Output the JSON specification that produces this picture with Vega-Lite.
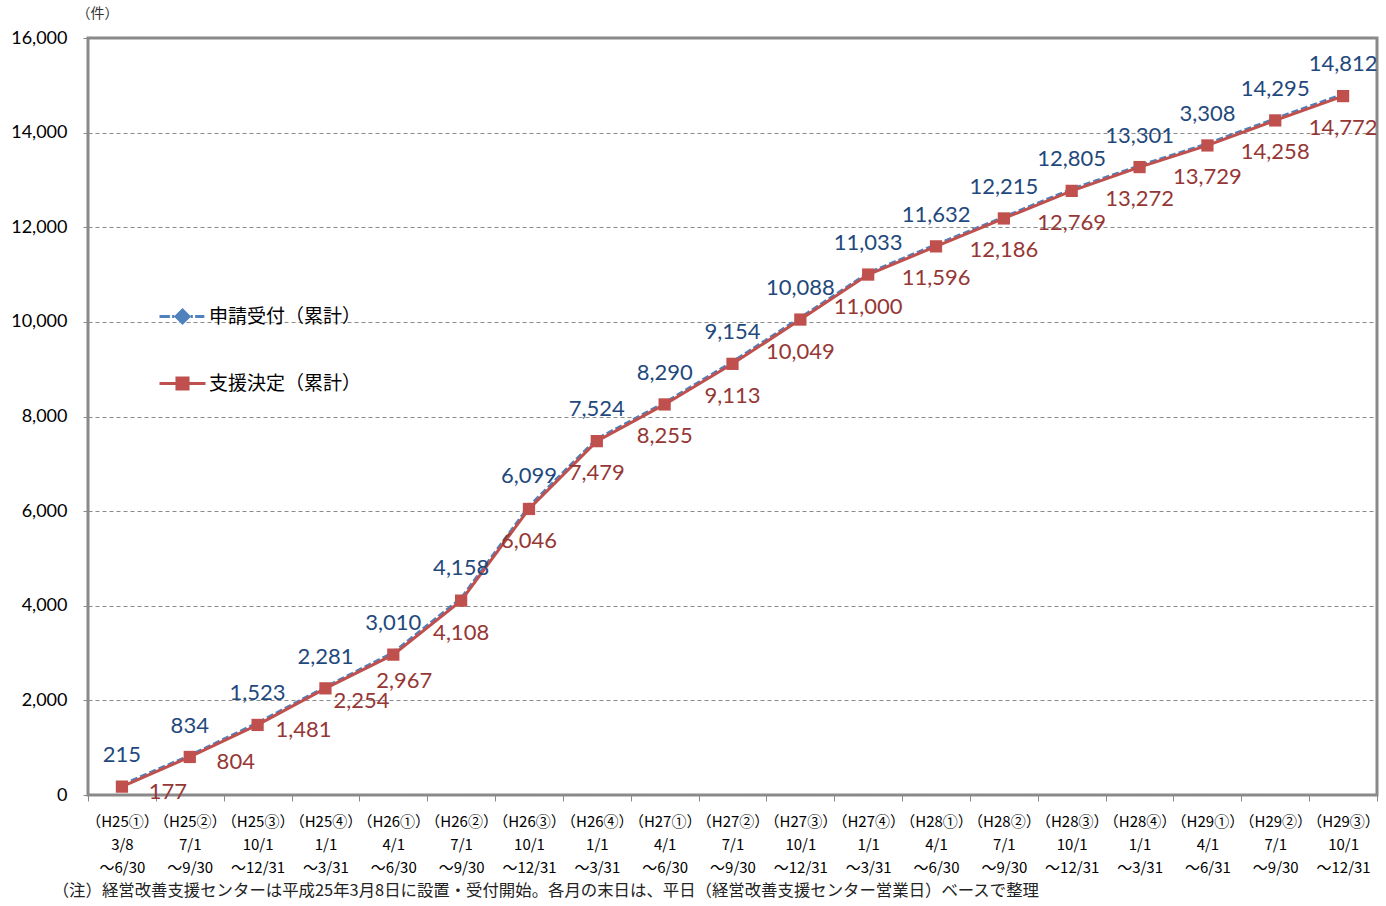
{
  "$schema": "https://vega.github.io/schema/vega-lite/v6.json",
  "width": 1289,
  "height": 757,
  "autosize": {"type": "none"},
  "padding": {"left": 88, "top": 38, "right": 9, "bottom": 111},
  "background": "white",
  "config": {"view": {"stroke": "#898989", "strokeWidth": 3}, "font": "Lato"},
  "title": {
    "text": "（注）経営改善支援センターは平成25年3月8日に設置・受付開始。各月の末日は、平日（経営改善支援センター営業日）ベースで整理",
    "orient": "bottom", "anchor": "start", "dx": 42, "offset": 8,
    "font": "Noto Sans CJK JP", "fontSize": 16.4, "fontWeight": "normal", "color": "#222222"
  },
  "data": {"values": [
    {"q": "（H25①）|3/8|～6/30", "series": "申請受付（累計）", "value": 215, "label": "215"},
    {"q": "（H25②）|7/1|～9/30", "series": "申請受付（累計）", "value": 834, "label": "834"},
    {"q": "（H25③）|10/1|～12/31", "series": "申請受付（累計）", "value": 1523, "label": "1,523"},
    {"q": "（H25④）|1/1|～3/31", "series": "申請受付（累計）", "value": 2281, "label": "2,281"},
    {"q": "（H26①）|4/1|～6/30", "series": "申請受付（累計）", "value": 3010, "label": "3,010"},
    {"q": "（H26②）|7/1|～9/30", "series": "申請受付（累計）", "value": 4158, "label": "4,158"},
    {"q": "（H26③）|10/1|～12/31", "series": "申請受付（累計）", "value": 6099, "label": "6,099"},
    {"q": "（H26④）|1/1|～3/31", "series": "申請受付（累計）", "value": 7524, "label": "7,524"},
    {"q": "（H27①）|4/1|～6/30", "series": "申請受付（累計）", "value": 8290, "label": "8,290"},
    {"q": "（H27②）|7/1|～9/30", "series": "申請受付（累計）", "value": 9154, "label": "9,154"},
    {"q": "（H27③）|10/1|～12/31", "series": "申請受付（累計）", "value": 10088, "label": "10,088"},
    {"q": "（H27④）|1/1|～3/31", "series": "申請受付（累計）", "value": 11033, "label": "11,033"},
    {"q": "（H28①）|4/1|～6/30", "series": "申請受付（累計）", "value": 11632, "label": "11,632"},
    {"q": "（H28②）|7/1|～9/30", "series": "申請受付（累計）", "value": 12215, "label": "12,215"},
    {"q": "（H28③）|10/1|～12/31", "series": "申請受付（累計）", "value": 12805, "label": "12,805"},
    {"q": "（H28④）|1/1|～3/31", "series": "申請受付（累計）", "value": 13301, "label": "13,301"},
    {"q": "（H29①）|4/1|～6/31", "series": "申請受付（累計）", "value": 13765, "label": "3,308"},
    {"q": "（H29②）|7/1|～9/30", "series": "申請受付（累計）", "value": 14295, "label": "14,295"},
    {"q": "（H29③）|10/1|～12/31", "series": "申請受付（累計）", "value": 14812, "label": "14,812"},
    {"q": "（H25①）|3/8|～6/30", "series": "支援決定（累計）", "value": 177, "label": "177"},
    {"q": "（H25②）|7/1|～9/30", "series": "支援決定（累計）", "value": 804, "label": "804"},
    {"q": "（H25③）|10/1|～12/31", "series": "支援決定（累計）", "value": 1481, "label": "1,481"},
    {"q": "（H25④）|1/1|～3/31", "series": "支援決定（累計）", "value": 2254, "label": "2,254"},
    {"q": "（H26①）|4/1|～6/30", "series": "支援決定（累計）", "value": 2967, "label": "2,967"},
    {"q": "（H26②）|7/1|～9/30", "series": "支援決定（累計）", "value": 4108, "label": "4,108"},
    {"q": "（H26③）|10/1|～12/31", "series": "支援決定（累計）", "value": 6046, "label": "6,046"},
    {"q": "（H26④）|1/1|～3/31", "series": "支援決定（累計）", "value": 7479, "label": "7,479"},
    {"q": "（H27①）|4/1|～6/30", "series": "支援決定（累計）", "value": 8255, "label": "8,255"},
    {"q": "（H27②）|7/1|～9/30", "series": "支援決定（累計）", "value": 9113, "label": "9,113"},
    {"q": "（H27③）|10/1|～12/31", "series": "支援決定（累計）", "value": 10049, "label": "10,049"},
    {"q": "（H27④）|1/1|～3/31", "series": "支援決定（累計）", "value": 11000, "label": "11,000"},
    {"q": "（H28①）|4/1|～6/30", "series": "支援決定（累計）", "value": 11596, "label": "11,596"},
    {"q": "（H28②）|7/1|～9/30", "series": "支援決定（累計）", "value": 12186, "label": "12,186"},
    {"q": "（H28③）|10/1|～12/31", "series": "支援決定（累計）", "value": 12769, "label": "12,769"},
    {"q": "（H28④）|1/1|～3/31", "series": "支援決定（累計）", "value": 13272, "label": "13,272"},
    {"q": "（H29①）|4/1|～6/31", "series": "支援決定（累計）", "value": 13729, "label": "13,729"},
    {"q": "（H29②）|7/1|～9/30", "series": "支援決定（累計）", "value": 14258, "label": "14,258"},
    {"q": "（H29③）|10/1|～12/31", "series": "支援決定（累計）", "value": 14772, "label": "14,772"}
  ]},
  "encoding": {
    "x": {
      "field": "q", "type": "ordinal", "sort": null, "bandPosition": 0.5,
      "scale": {"type": "band", "paddingInner": 0, "paddingOuter": 0},
      "axis": {
        "title": null, "labelAngle": 0, "labelExpr": "datum.value ? split(datum.value, '|') : ''",
        "labelFont": "Noto Sans CJK JP", "labelFontSize": 15, "labelLineHeight": 23,
        "labelColor": "#000000", "labelPadding": 13, "labelOverlap": false, "labelBound": false,
        "tickBand": "extent", "tickSize": 6, "tickColor": "#898989", "tickWidth": 1,
        "domain": false, "grid": false
      }
    },
    "y": {
      "field": "value", "type": "quantitative",
      "scale": {"domain": [0, 16000], "nice": false},
      "axis": {
        "title": "（件）", "titleAngle": 0, "titleX": -12, "titleY": -25,
        "titleAlign": "left", "titleBaseline": "middle",
        "titleFont": "Noto Sans CJK JP", "titleFontSize": 14, "titleFontWeight": "normal", "titleColor": "#333333",
        "values": [0, 2000, 4000, 6000, 8000, 10000, 12000, 14000, 16000],
        "format": ",d", "labelFontSize": 18, "labelColor": "#000000", "labelPadding": 16,
        "tickSize": 5, "tickColor": "#898989", "domain": false,
        "grid": true, "gridDash": [4, 3], "gridColor": "#8a8a8a", "gridWidth": 1
      }
    }
  },
  "layer": [
    {
      "transform": [{"filter": "datum.series === '申請受付（累計）'"}],
      "mark": {"type": "line", "strokeWidth": 3, "strokeDash": [7, 3]},
      "encoding": {
        "color": {
          "field": "series", "type": "nominal",
          "scale": {"domain": ["申請受付（累計）", "支援決定（累計）"], "range": ["#4F81BD", "#C0504D"]},
          "legend": {
            "title": null, "orient": "none", "legendX": 70, "legendY": 254, "direction": "vertical",
            "padding": 0, "symbolSize": 2116, "symbolStrokeWidth": 3, "rowPadding": 30, "labelOffset": 2,
            "labelFont": "Noto Sans CJK JP", "labelFontSize": 19, "labelColor": "#000000", "labelLimit": 300,
            "encode": {"symbols": {"update": {
              "shape": {"signal": "datum.value === '申請受付（累計）' ? 'M-1,0H-0.55M-0.45,0H-0.36M0.36,0H0.45M0.55,0H0.95M0,-0.28L0.28,0L0,0.28L-0.28,0Z' : 'M-1,0H1M-0.24,-0.24H0.24V0.24H-0.24Z'"},
              "fill": {"signal": "datum.value === '申請受付（累計）' ? '#4F81BD' : '#C0504D'"},
              "stroke": {"signal": "datum.value === '申請受付（累計）' ? '#4F81BD' : '#C0504D'"},
              "strokeWidth": {"value": 3},
              "strokeDash": {"value": []},
              "opacity": {"value": 1}
            }}}
          }
        }
      }
    },
    {
      "transform": [{"filter": "datum.series === '申請受付（累計）'"}],
      "mark": {"type": "point", "shape": "diamond", "filled": true, "size": 60, "color": "#4F81BD", "opacity": 1}
    },
    {
      "transform": [{"filter": "datum.series === '支援決定（累計）'"}],
      "mark": {"type": "line", "strokeWidth": 3},
      "encoding": {"color": {"field": "series", "type": "nominal"}}
    },
    {
      "transform": [{"filter": "datum.series === '支援決定（累計）'"}],
      "mark": {"type": "point", "shape": "square", "filled": true, "size": 150, "color": "#C0504D", "opacity": 1}
    },
    {
      "transform": [{"filter": "datum.series === '申請受付（累計）'"}],
      "mark": {"type": "text", "dy": -30, "fontSize": 22, "font": "Lato", "color": "#1F497D"},
      "encoding": {"text": {"field": "label"}}
    },
    {
      "transform": [{"filter": "datum.series === '支援決定（累計）' && datum.value < 2000"}],
      "mark": {"type": "text", "dx": 46, "dy": 5, "fontSize": 22, "font": "Lato", "color": "#953735"},
      "encoding": {"text": {"field": "label"}}
    },
    {
      "transform": [{"filter": "datum.series === '支援決定（累計）' && datum.value >= 2000 && datum.value < 2500"}],
      "mark": {"type": "text", "dx": 36, "dy": 13, "fontSize": 22, "font": "Lato", "color": "#953735"},
      "encoding": {"text": {"field": "label"}}
    },
    {
      "transform": [{"filter": "datum.series === '支援決定（累計）' && datum.value >= 2500 && datum.value < 3500"}],
      "mark": {"type": "text", "dx": 11, "dy": 26, "fontSize": 22, "font": "Lato", "color": "#953735"},
      "encoding": {"text": {"field": "label"}}
    },
    {
      "transform": [{"filter": "datum.series === '支援決定（累計）' && datum.value >= 3500"}],
      "mark": {"type": "text", "dy": 32, "fontSize": 22, "font": "Lato", "color": "#953735"},
      "encoding": {"text": {"field": "label"}}
    }
  ]
}
